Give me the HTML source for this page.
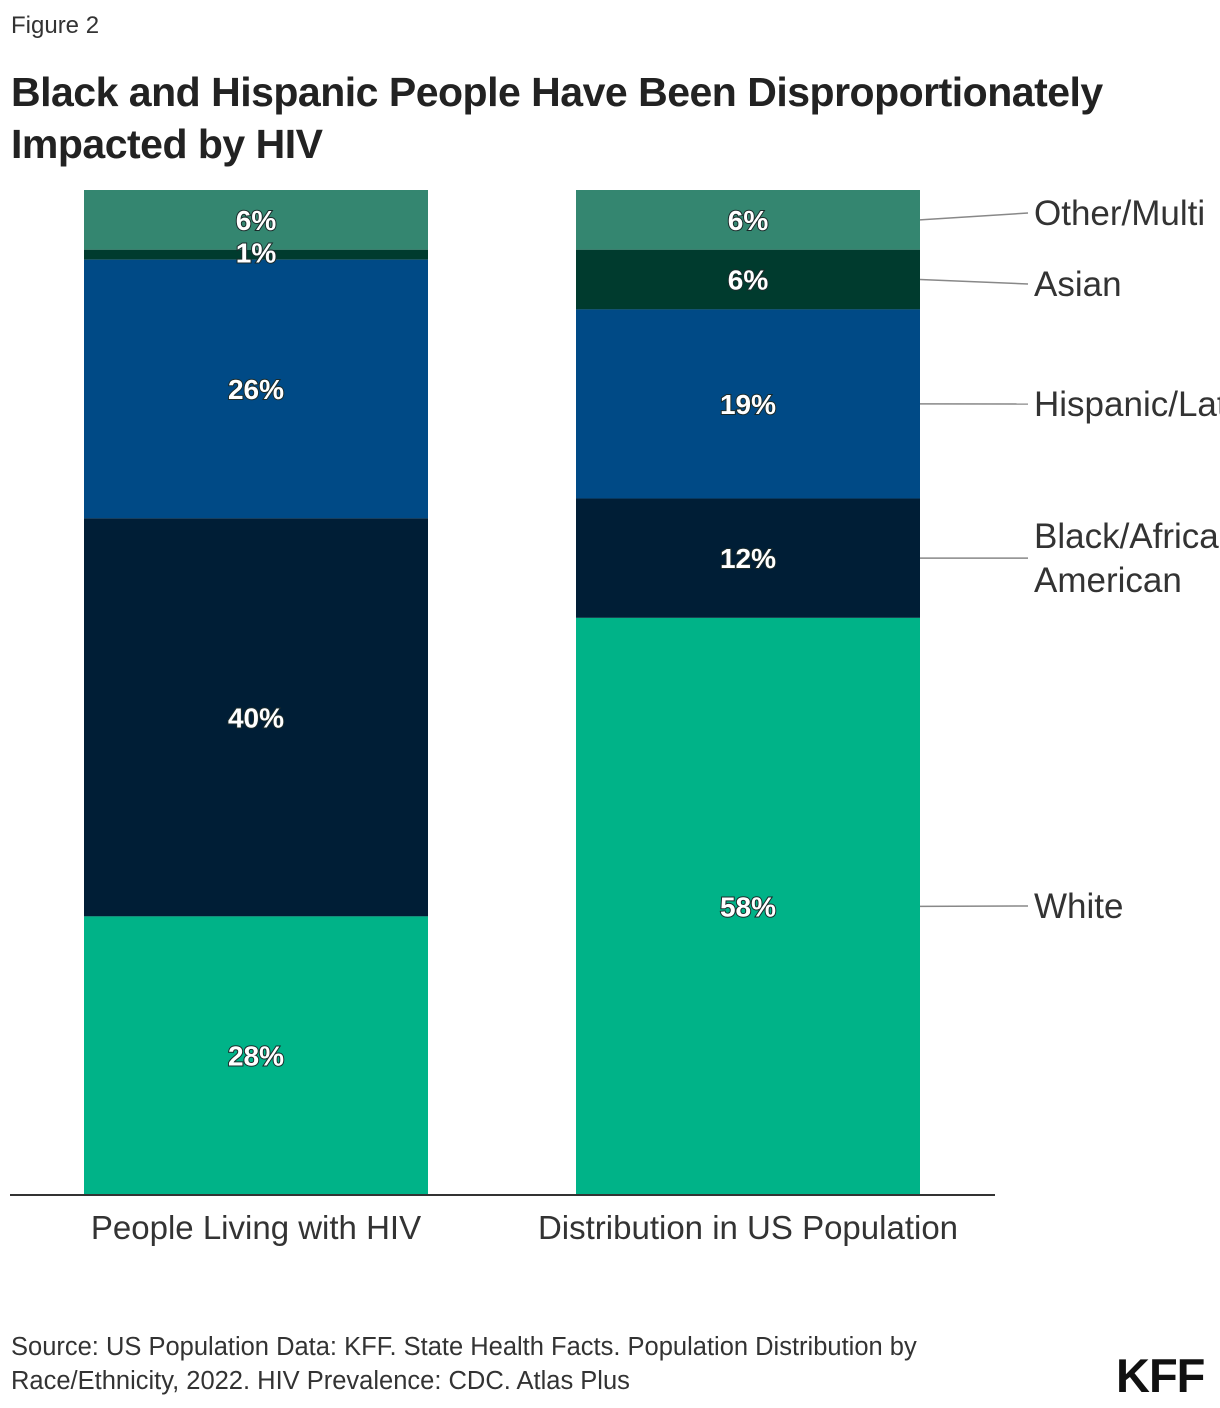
<!DOCTYPE html>
<html><head><meta charset="utf-8"><style>
body{margin:0;background:#fff;width:1220px;height:1408px;overflow:hidden;font-family:"Liberation Sans",sans-serif;position:relative}
.t{position:absolute;white-space:nowrap}
</style></head><body>
<div class="t" style="left:11px;top:12px;font-size:24px;color:#333">Figure 2</div>
<div class="t" style="left:11px;top:66px;font-size:41px;font-weight:bold;color:#222;line-height:52px;letter-spacing:-0.5px">Black and Hispanic People Have Been Disproportionately<br>Impacted by HIV</div>
<svg id="chart" width="1220" height="1408" style="position:absolute;left:0;top:0"></svg>
<div class="t" style="left:11px;top:1330px;font-size:25.5px;color:#333;line-height:34px">Source: US Population Data: KFF. State Health Facts. Population Distribution by<br>Race/Ethnicity, 2022. HIV Prevalence: CDC. Atlas Plus</div>
<div class="t" style="left:1116px;top:1348px;font-size:47px;font-weight:bold;color:#111;letter-spacing:-1px">KFF</div>
<script>
const categories=["People Living with HIV","Distribution in US Population"];
const seriesNames=["Other/Multi","Asian","Hispanic/Latino","Black/African American","White"];
const otherVals=[6,6];
const asianVals=[1,6];
const hispVals=[26,19];
const blackVals=[40,12];
const whiteVals=[28,58];
const colors=["#348670","#003b2e","#004a86","#001e36","#00b388"];
const series=[otherVals,asianVals,hispVals,blackVals,whiteVals];
const NS="http://www.w3.org/2000/svg";
const svg=document.getElementById('chart');
const top0=190,bot=1195,barW=344,barX=[84,576];
function mk(t,a){const e=document.createElementNS(NS,t);for(const k in a)e.setAttribute(k,a[k]);svg.appendChild(e);return e;}
const mids=[];
categories.forEach((c,ci)=>{
  let tot=0;series.forEach(s=>tot+=s[ci]);
  const sc=(bot-top0)/tot;let y=top0;mids[ci]=[];
  series.forEach((s,si)=>{
    const h=s[ci]*sc;
    const r=mk('rect',{x:barX[ci],y:y,width:barW,height:h,fill:colors[si]});
    
    
    mids[ci].push(y+h/2);y+=h;
  });
  mids[ci].forEach((m,si)=>{
    const v=series[si][ci];
    let yy=m+10;
    if(si===1&&v<3)yy=m+8;
    const t=mk('text',{x:barX[ci]+barW/2,y:yy,'text-anchor':'middle','font-size':28,'font-weight':'bold',fill:'#fff',stroke:'#1a2a2a','stroke-width':2,'paint-order':'stroke','font-family':'Liberation Sans'});
    t.textContent=v+'%';
    
    
  });
  const cl=mk('text',{x:barX[ci]+barW/2,y:1239,'text-anchor':'middle','font-size':33,fill:'#333','font-family':'Liberation Sans'});
  cl.textContent=c;
  
  
});
const ax=mk('line',{x1:10,x2:995,y1:1195,y2:1195,stroke:'#333','stroke-width':2});


const lblY=[213,284,404,null,906];
seriesNames.forEach((n,si)=>{
  const m=mids[1][si];
  let ly=lblY[si]===null?m:lblY[si];
  const ln=mk('line',{x1:920,y1:m,x2:1028,y2:ly,stroke:'#888','stroke-width':1.5});
  
  
  const t=mk('text',{x:1034,y:ly+12,'font-size':35,fill:'#333','font-family':'Liberation Sans'});
  if(si===3){t.setAttribute('y',ly-10);
    const a=document.createElementNS(NS,'tspan');a.textContent='Black/African';t.appendChild(a);
    const b=document.createElementNS(NS,'tspan');b.setAttribute('x',1034);b.setAttribute('dy',44);b.textContent='American';t.appendChild(b);
  } else t.textContent=n;
  
  
});
</script>
</body></html>
